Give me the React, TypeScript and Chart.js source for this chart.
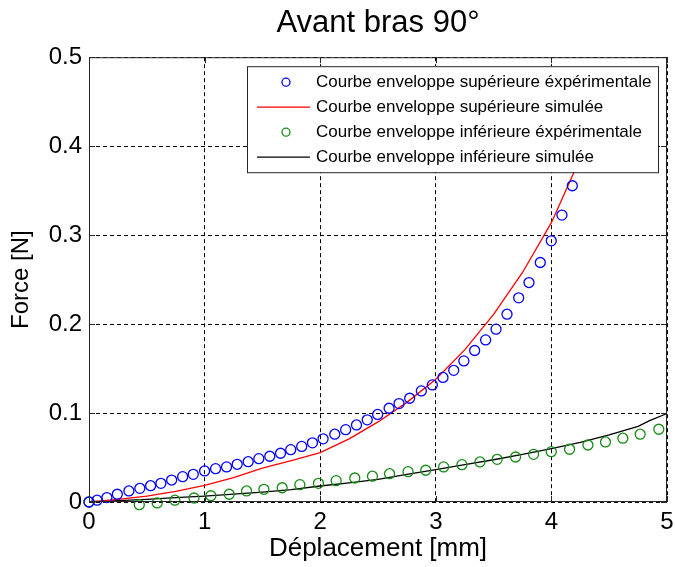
import React, { useEffect, useRef } from 'react';
import { Chart, registerables } from 'chart.js';

Chart.register(...registerables);

const TITLE = 'Avant bras 90°';
const X_LABEL = 'Déplacement [mm]';
const Y_LABEL = 'Force [N]';

const SERIES_LABELS = [
  'Courbe enveloppe supérieure éxpérimentale',
  'Courbe enveloppe supérieure simulée',
  'Courbe enveloppe inférieure éxpérimentale',
  'Courbe enveloppe inférieure simulée',
];

const X_TICKS = [0, 1, 2, 3, 4, 5];
const X_TICK_LABELS = ['0', '1', '2', '3', '4', '5'];
const Y_TICKS = [0, 0.1, 0.2, 0.3, 0.4, 0.5];
const Y_TICK_LABELS = ['0', '0.1', '0.2', '0.3', '0.4', '0.5'];

// Upper envelope, experimental (blue circles)
const upperExpX = [
  0, 0.07, 0.155, 0.245, 0.345, 0.44, 0.533, 0.622, 0.715, 0.81, 0.902, 1.0,
  1.095, 1.19, 1.282, 1.377, 1.469, 1.564, 1.657, 1.745, 1.84, 1.933, 2.025,
  2.126, 2.22, 2.314, 2.407, 2.497, 2.596, 2.682, 2.774, 2.875, 2.97, 3.062,
  3.155, 3.243, 3.336, 3.431, 3.521, 3.616, 3.717, 3.806, 3.904, 3.999, 4.091,
  4.181,
];
const upperExpY = [
  0, 0.002, 0.005, 0.0087, 0.0124, 0.0154, 0.0183, 0.021, 0.0247, 0.0285,
  0.0311, 0.0349, 0.0375, 0.0394, 0.0424, 0.0453, 0.0487, 0.0514, 0.0548,
  0.0588, 0.0625, 0.0665, 0.071, 0.0762, 0.0813, 0.0866, 0.0924, 0.0984,
  0.1054, 0.1106, 0.1166, 0.1249, 0.1316, 0.14, 0.148, 0.1586, 0.1703, 0.1822,
  0.1943, 0.2111, 0.2295, 0.2467, 0.2692, 0.2936, 0.3225, 0.3555,
];

// Upper envelope, simulated (red line)
const upperSimX = [
  0, 0.25, 0.5, 0.75, 1.0, 1.25, 1.5, 1.75, 2.0, 2.25, 2.5, 2.75, 3.0, 3.25,
  3.5, 3.75, 4.0, 4.2, 4.3, 4.4,
];
const upperSimY = [
  0, 0.003, 0.0066, 0.012, 0.0188, 0.0275, 0.038, 0.0465, 0.0555, 0.071,
  0.09, 0.112, 0.138, 0.171, 0.211, 0.258, 0.314, 0.372, 0.415, 0.46,
];

// Lower envelope, experimental (green circles)
const lowerExpX = [
  0, 0.435, 0.59, 0.743, 0.908, 1.054, 1.213, 1.363, 1.513, 1.671, 1.824,
  1.985, 2.138, 2.299, 2.452, 2.6, 2.76, 2.913, 3.068, 3.226, 3.382, 3.531,
  3.69, 3.846, 3.999, 4.157, 4.316, 4.468, 4.618, 4.768, 4.929,
];
const lowerExpY = [
  0, -0.003, -0.001, 0.002, 0.0045, 0.007, 0.0087, 0.0124, 0.0143, 0.016,
  0.0195, 0.021, 0.024, 0.027, 0.029, 0.0318, 0.0341, 0.0357, 0.0394, 0.042,
  0.045, 0.048, 0.0506, 0.0536, 0.0566, 0.0593, 0.0641, 0.0675, 0.0717,
  0.0762, 0.0818,
];

// Lower envelope, simulated (black line)
const lowerSimX = [
  0, 0.25, 0.5, 0.75, 1.0, 1.25, 1.5, 1.75, 2.0, 2.25, 2.5, 2.75, 3.0, 3.25,
  3.5, 3.75, 4.0, 4.25, 4.5, 4.75, 4.85, 5.0,
];
const lowerSimY = [
  0, 0.0015, 0.003, 0.005, 0.0067, 0.0088, 0.011, 0.0138, 0.018, 0.0215,
  0.0255, 0.031, 0.0365, 0.042, 0.0475, 0.0535, 0.06, 0.067, 0.0755, 0.085,
  0.0915, 0.0995,
];

const FONT = "'Liberation Sans', Arial, sans-serif";
const BLUE = 'rgb(0,0,255)';
const RED = 'rgb(255,0,0)';
const GREEN = 'rgb(20,140,20)';
const BLACK = 'rgb(0,0,0)';

const toPoints = (xs: number[], ys: number[]) => xs.map((x, i) => ({ x, y: ys[i] }));

const framePlugin = {
  id: 'matlabFrame',
  afterDraw(chart: any) {
    const ctx = chart.ctx as CanvasRenderingContext2D;
    const { left, top, right, bottom } = chart.chartArea;
    const xs = chart.scales.x;
    const ys = chart.scales.y;
    ctx.save();
    ctx.setLineDash([]);
    ctx.strokeStyle = '#262626';
    ctx.lineWidth = 1;
    ctx.strokeRect(left + 0.5, top + 0.5, right - left - 1, bottom - top - 1);
    const tl = 6;
    ctx.beginPath();
    X_TICKS.forEach((v) => {
      const px = Math.round(xs.getPixelForValue(v)) + 0.5;
      ctx.moveTo(px, bottom);
      ctx.lineTo(px, bottom - tl);
      ctx.moveTo(px, top);
      ctx.lineTo(px, top + tl);
    });
    Y_TICKS.forEach((v) => {
      const py = Math.round(ys.getPixelForValue(v)) + 0.5;
      ctx.moveTo(left, py);
      ctx.lineTo(left + tl, py);
      ctx.moveTo(right, py);
      ctx.lineTo(right - tl, py);
    });
    ctx.stroke();

    // Legend box inside plot (top right)
    const boxRight = right - 9;
    const boxTop = top + 9;
    const boxW = 411;
    const boxH = 106;
    const boxLeft = boxRight - boxW;
    ctx.fillStyle = '#ffffff';
    ctx.fillRect(boxLeft, boxTop, boxW, boxH);
    ctx.strokeStyle = '#262626';
    ctx.strokeRect(boxLeft + 0.5, boxTop + 0.5, boxW, boxH);
    ctx.font = `17px ${FONT}`;
    ctx.textBaseline = 'middle';
    ctx.textAlign = 'left';
    chart.data.datasets.forEach((ds: any, i: number) => {
      const cy = boxTop + 16 + i * 25;
      ctx.strokeStyle = ds.borderColor;
      ctx.lineWidth = 1.3;
      ctx.beginPath();
      if (ds.showLine) {
        ctx.moveTo(boxLeft + 10, cy);
        ctx.lineTo(boxLeft + 63, cy);
      } else {
        ctx.arc(boxLeft + 39, cy, 4, 0, Math.PI * 2);
      }
      ctx.stroke();
      ctx.fillStyle = '#000';
      ctx.fillText(ds.label, boxLeft + 69, cy);
    });
    ctx.restore();
  },
};

export default function App() {
  const ref = useRef<HTMLCanvasElement | null>(null);

  useEffect(() => {
    if (!ref.current) return;
    const chart = new Chart(ref.current, {
      type: 'scatter',
      data: {
        datasets: [
          {
            label: SERIES_LABELS[0],
            data: toPoints(upperExpX, upperExpY),
            showLine: false,
            borderColor: BLUE,
            backgroundColor: 'rgba(0,0,0,0)',
            pointRadius: 5,
            pointBorderWidth: 1.3,
            pointStyle: 'circle',
            clip: false,
          },
          {
            label: SERIES_LABELS[1],
            data: toPoints(upperSimX, upperSimY),
            showLine: true,
            borderColor: RED,
            borderWidth: 1.3,
            pointRadius: 0,
            tension: 0,
            clip: false,
          },
          {
            label: SERIES_LABELS[2],
            data: toPoints(lowerExpX, lowerExpY),
            showLine: false,
            borderColor: GREEN,
            backgroundColor: 'rgba(0,0,0,0)',
            pointRadius: 5,
            pointBorderWidth: 1.3,
            pointStyle: 'circle',
            clip: false,
          },
          {
            label: SERIES_LABELS[3],
            data: toPoints(lowerSimX, lowerSimY),
            showLine: true,
            borderColor: BLACK,
            borderWidth: 1.3,
            pointRadius: 0,
            tension: 0,
            clip: false,
          },
        ],
      } as any,
      options: {
        responsive: false,
        animation: false,
        devicePixelRatio: 1,
        layout: { padding: { left: 0, right: 8, top: 0, bottom: 0 } },
        plugins: {
          legend: { display: false },
          tooltip: { enabled: false },
          title: {
            display: true,
            fullSize: false,
            text: TITLE,
            color: '#000',
            font: { family: FONT, size: 31, weight: 'normal', lineHeight: 1.2 },
            padding: { top: 5, bottom: 15 },
          },
        },
        scales: {
          x: {
            type: 'linear',
            min: 0,
            max: 5,
            afterFit: (s: any) => {
              s.height = 65;
              s.paddingLeft = 0;
              s.paddingRight = 0;
            },
            afterBuildTicks: (s: any) => {
              s.ticks = X_TICKS.map((v) => ({ value: v }));
            },
            ticks: {
              color: '#000',
              font: { family: FONT, size: 24 },
              padding: 6,
              maxRotation: 0,
              autoSkip: false,
              callback: (v: any) => X_TICK_LABELS[X_TICKS.indexOf(Number(v))] ?? '',
            },
            grid: { color: '#000', lineWidth: 1, drawTicks: false },
            border: { display: false, dash: [4, 3] },
            title: {
              display: true,
              text: X_LABEL,
              color: '#000',
              font: { family: FONT, size: 26 },
              padding: { top: 0, bottom: 3 },
            },
          },
          y: {
            type: 'linear',
            min: 0,
            max: 0.5,
            afterFit: (s: any) => {
              s.width = 89;
              s.paddingTop = 0;
              s.paddingBottom = 0;
            },
            afterBuildTicks: (s: any) => {
              s.ticks = Y_TICKS.map((v) => ({ value: v }));
            },
            ticks: {
              color: '#000',
              font: { family: FONT, size: 24 },
              padding: 7,
              autoSkip: false,
              callback: (v: any) => {
                const idx = Y_TICKS.findIndex((t) => Math.abs(t - Number(v)) < 1e-9);
                return idx >= 0 ? Y_TICK_LABELS[idx] : '';
              },
            },
            grid: { color: '#000', lineWidth: 1, drawTicks: false },
            border: { display: false, dash: [4, 3] },
            title: {
              display: true,
              text: Y_LABEL,
              color: '#000',
              font: { family: FONT, size: 24 },
              padding: { top: 7, bottom: 0 },
            },
          },
        },
      } as any,
      plugins: [framePlugin],
    });
    return () => chart.destroy();
  }, []);

  return (
    <div style={{ position: 'fixed', left: 0, top: 0, width: 675, height: 567, background: '#fff' }}>
      <canvas ref={ref} width={675} height={567} />
    </div>
  );
}
